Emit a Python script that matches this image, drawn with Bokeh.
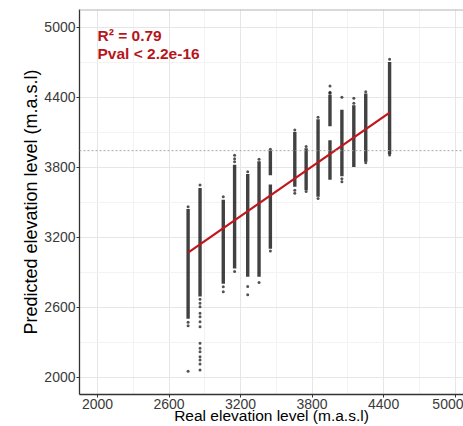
from bokeh.plotting import figure
from bokeh.models import ColumnDataSource, FixedTicker, Span, Label
from bokeh.embed import file_html
from bokeh.resources import INLINE

# ---- data ----
# column positions (real elevation, m.a.s.l)
col_x = [2760, 2860, 3055, 3150, 3260, 3355, 3450, 3655, 3750, 3850, 3950, 4050, 4150, 4250, 4450]

# dense runs of predicted values per column (x, low, high)
dense_x = [2760, 2860, 3055, 3150, 3260, 3355, 3450, 3450, 3655, 3750, 3850, 3950, 3950, 4050, 4150, 4250, 4450]
dense_lo = [2500, 2690, 2800, 2930, 2860, 2860, 3100, 3730, 3630, 3600, 3545, 3690, 4150, 3720, 3800, 3845, 3910]
dense_hi = [3440, 3620, 3520, 3820, 3740, 3850, 3650, 3940, 4100, 3960, 4210, 4030, 4420, 4290, 4330, 4430, 4700]

# isolated points (x, y)
pt_x = [2760, 2760, 2760, 2760,
        2860, 2860, 2860, 2860, 2860, 2860, 2860, 2860, 2860, 2860, 2860, 2860, 2860, 2860, 2860,
        3055, 3055, 3055,
        3150, 3150, 3150, 3150,
        3260, 3260, 3260,
        3355, 3355,
        3450, 3450,
        3655, 3655, 3655,
        3750, 3750,
        3850, 3850,
        3950, 3950, 3950,
        4050, 4050, 4050,
        4150, 4150,
        4250, 4250,
        4450, 4450]
pt_y = [3460, 2470, 2440, 2050,
        3645, 2666, 2632, 2603, 2546, 2517, 2474, 2431, 2289, 2246, 2217, 2174, 2146, 2111, 2060,
        3545, 2774, 2731,
        3900, 3870, 3845, 2905,
        3760, 2775, 2705,
        3866, 2810,
        3952, 3080,
        4117, 3600, 3575,
        3975, 3590,
        4226, 3531,
        4494, 4440, 4432,
        4397, 3700, 3674,
        4389, 4346,
        4446, 3837,
        4723, 3903]

# regression line end points
fit_x = [2760, 4450]
fit_y = [3066, 4266]

ref_level = 3940

ticks = [2000, 2600, 3200, 3800, 4400, 5000]
minor = [2300, 2900, 3500, 4100, 4700]
tick_labels = {2000: "2000", 2600: "2600", 3200: "3200", 3800: "3800", 4400: "4400", 5000: "5000"}

r2_text = "R² = 0.79"
pval_text = "Pval < 2.2e-16"
x_title = "Real elevation level (m.a.s.l)"
y_title = "Predicted elevation level (m.a.s.l)"

FONT = "Liberation Sans"

p = figure(width=463, height=426, output_backend="svg", toolbar_location=None,
           x_range=(1849, 5070), y_range=(1850, 5150),
           min_border_left=79, min_border_right=0, min_border_top=9, min_border_bottom=32)
p.background_fill_color = "white"
p.border_fill_color = "white"
p.outline_line_color = None

for ax in (p.xaxis[0], p.yaxis[0]):
    ax.ticker = FixedTicker(ticks=ticks, minor_ticks=minor)
    ax.major_label_overrides = tick_labels
    ax.axis_line_color = "#333333"
    ax.axis_line_width = 1.3
    ax.major_tick_line_color = "#333333"
    ax.major_tick_in = 0
    ax.major_tick_out = 3
    ax.minor_tick_in = 0
    ax.minor_tick_out = 0
    ax.major_label_text_font = FONT
    ax.major_label_text_font_size = "14px"
    ax.major_label_text_color = "#3a3a3a"
    ax.major_label_standoff = 1
    ax.axis_label_text_font = FONT
    ax.axis_label_text_font_style = "normal"
    ax.axis_label_text_color = "black"

p.xaxis.axis_label = x_title
p.xaxis.axis_label_text_font_size = "15.5px"
p.xaxis.axis_label_standoff = -5
p.yaxis.axis_label = y_title
p.yaxis.axis_label_text_font_size = "18px"
p.yaxis.axis_label_standoff = 0

p.xgrid.grid_line_color = "#e6e6e6"
p.ygrid.grid_line_color = "#e6e6e6"
p.xgrid.minor_grid_line_color = "#f3f3f3"
p.ygrid.minor_grid_line_color = "#f3f3f3"

# top panel border
p.add_layout(Span(location=5148, dimension="width", line_color="#b4b4b4", line_width=1.5))

p.add_layout(Span(location=ref_level, dimension="width", line_color="#a8a8a8",
                  line_dash="2 2", line_width=1))

dsrc = ColumnDataSource(dict(x=dense_x, lo=dense_lo, hi=dense_hi))
p.segment(x0="x", y0="lo", x1="x", y1="hi", source=dsrc, line_color="#111111",
          line_width=3.4, line_alpha=0.8)

psrc = ColumnDataSource(dict(x=pt_x, y=pt_y))
p.scatter(x="x", y="y", source=psrc, size=3, fill_color="#1a1a1a", line_color=None, fill_alpha=0.75)

p.line(fit_x, fit_y, line_color="#c0161c", line_width=2.2)

p.add_layout(Label(x=2000, y=4931, text=r2_text, text_font=FONT, text_font_style="bold",
                   text_font_size="15.5px", text_color="#b5161b", text_baseline="middle"))
p.add_layout(Label(x=2000, y=4777, text=pval_text, text_font=FONT, text_font_style="bold",
                   text_font_size="15.5px", text_color="#b5161b", text_baseline="middle"))

open("out.html", "w").write(file_html(p, INLINE))
